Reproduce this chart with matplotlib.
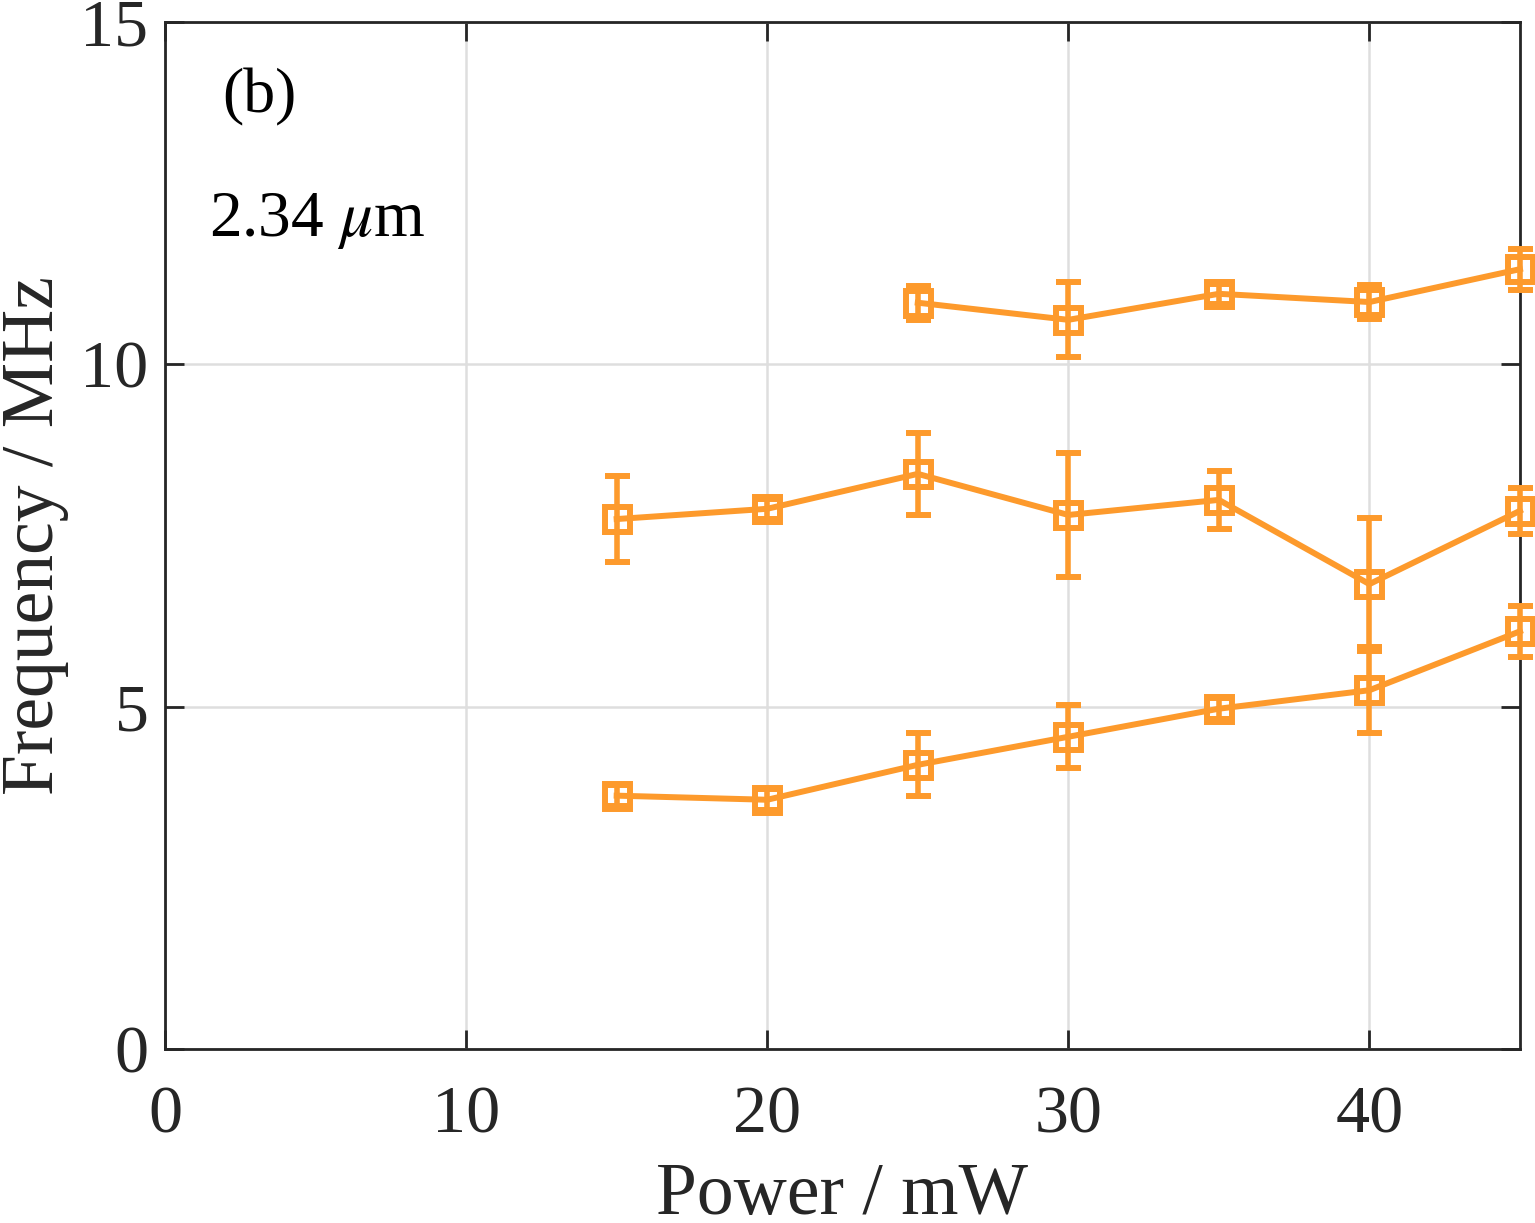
import numpy as np
import matplotlib.pyplot as plt

plt.rcParams['font.family'] = ['Liberation Serif', 'DejaVu Serif']
plt.rcParams['mathtext.fontset'] = 'stix'

color = '#fd9a2c'

# upper branch
x_top = [25, 30, 35, 40, 45]
y_top = [10.90, 10.65, 11.03, 10.91, 11.39]
e_top = [0.25, 0.55, 0.15, 0.25, 0.30]

# middle branch
x_mid = [15, 20, 25, 30, 35, 40, 45]
y_mid = [7.74, 7.89, 8.40, 7.80, 8.02, 6.79, 7.86]
e_mid = [0.63, 0.15, 0.60, 0.90, 0.42, 0.97, 0.34]

# lower branch
x_low = [15, 20, 25, 30, 35, 40, 45]
y_low = [3.70, 3.64, 4.15, 4.56, 4.97, 5.24, 6.10]
e_low = [0.15, 0.15, 0.46, 0.46, 0.15, 0.63, 0.37]

fig = plt.figure(figsize=(15.35, 12.23), dpi=100)
ax = fig.add_axes([0.1075, 0.1423, 0.8827, 0.8397])

for xs, ys, es in [(x_top, y_top, e_top), (x_mid, y_mid, e_mid), (x_low, y_low, e_low)]:
    ax.errorbar(xs, ys, yerr=es, color=color, lw=4.3, marker='s', ms=18,
                mfc='none', mec=color, mew=4.3, capsize=9, capthick=4, elinewidth=4,
                clip_on=False, zorder=3)

ax.set_xlim(0, 45)
ax.set_ylim(0, 15)
ax.set_xticks([0, 10, 20, 30, 40])
ax.set_yticks([0, 5, 10, 15])
ax.grid(True, color='#dedede', lw=1.8)
ax.set_axisbelow(True)
ax.tick_params(direction='in', length=14, width=2, labelsize=49, colors='#262626',
               top=True, right=True, pad=12)
ax.tick_params(axis='x', pad=26)
for s in ax.spines.values():
    s.set_linewidth(2)
    s.set_color('#262626')

ax.set_xlabel('Power / mW', fontsize=53, color='#262626', labelpad=12)
ax.set_ylabel('Frequency / MHz', fontsize=53, color='#262626', labelpad=8)

ax.text(1.9, 13.9, '(b)', fontsize=46, color='black', ha='left', va='center')
ax.text(1.45, 12.1, r'2.34 $\mu$m', fontsize=47, color='black', ha='left', va='center')

fig.savefig('out.png', dpi=100)
